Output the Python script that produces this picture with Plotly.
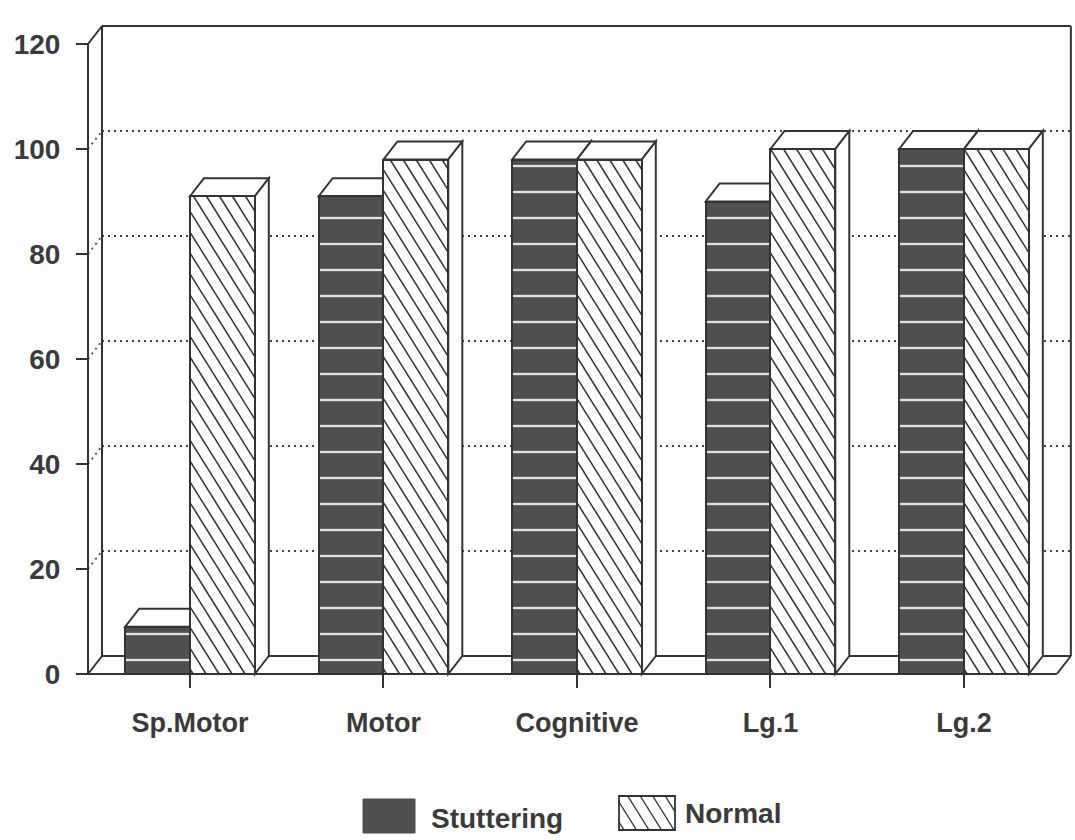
import plotly.graph_objects as go

# ---- data ---------------------------------------------------------------
categories = ["Sp.Motor", "Motor", "Cognitive", "Lg.1", "Lg.2"]
stuttering = [9, 91, 98, 90, 100]
normal = [91, 98, 98, 100, 100]
y_ticks = [0, 20, 40, 60, 80, 100, 120]
series_names = ["Stuttering", "Normal"]

# ---- geometry -----------------------------------------------------------
W, H = 1075, 840
M_L, M_R, M_T, M_B = 84, 2, 23, 163
PX_X = 193.5          # pixels per category step
PX_Y = 5.25           # pixels per score unit
X0 = -0.5477
X1 = X0 + (W - M_L - M_R) / PX_X
Y_TOP = 124.0
Y_BOT = Y_TOP - (H - M_T - M_B) / PX_Y

X_LEFT = X0 + 4 / PX_X       # front vertical axis
X_RIGHT = 4.48               # front right end of the floor
Y_MAX = 120
DX = 14 / PX_X               # depth offset of the 3-D boxes
DY = 18 / PX_Y
BAR_W = 0.335

INK = "#333333"
TEXT = "#3a3a3a"
DARK = "#4f4f4f"
FONT = "Liberation Sans"

pos = list(range(len(categories)))


def hatch(px0, px1, py0, py1, step=13.0, slope=1.6, phase=5.0):
    """Segments of lines falling to the right, clipped to a pixel rectangle
    (y measured upward)."""
    segs = []
    kmin = py0 + slope * px0
    kmax = py1 + slope * px1
    k = kmin + phase
    while k < kmax:
        lo = max(px0, (k - py1) / slope)
        hi = min(px1, (k - py0) / slope)
        if hi - lo > 0.5:
            segs.append(((lo, k - slope * lo), (hi, k - slope * hi)))
        k += slope * step
    return segs


fig = go.Figure()

fig.add_trace(go.Bar(
    x=pos, y=stuttering, width=BAR_W, offset=-BAR_W, name=series_names[0],
    marker=dict(color=DARK, line=dict(color=INK, width=2),
                pattern=dict(shape="-", fgcolor="#e0e0e0", bgcolor=DARK,
                             size=26, solidity=0.09, fillmode="replace")),
    showlegend=False, hoverinfo="skip",
))
fig.add_trace(go.Bar(
    x=pos, y=normal, width=BAR_W, offset=0, name=series_names[1],
    marker=dict(color="white", line=dict(color=INK, width=2)),
    showlegend=False, hoverinfo="skip",
))

# steep diagonal hatching on the front faces of the Normal bars
hx, hy = [], []
for p, v in zip(pos, normal):
    for (a, b) in hatch(p * PX_X, (p + BAR_W) * PX_X, 0, v * PX_Y):
        hx += [a[0] / PX_X, b[0] / PX_X, None]
        hy += [a[1] / PX_Y, b[1] / PX_Y, None]
fig.add_trace(go.Scatter(x=hx, y=hy, mode="lines",
                         line=dict(color=INK, width=1.5),
                         showlegend=False, hoverinfo="skip"))

shapes = []


def line(x0, y0, x1, y1, layer="below", dash=None, width=2, color=INK):
    d = dict(type="line", xref="x", yref="y", x0=x0, y0=y0, x1=x1, y1=y1,
             layer=layer, line=dict(color=color, width=width))
    if dash:
        d["line"]["dash"] = dash
    shapes.append(d)


def poly(pts, layer="between", fill="white"):
    path = "M " + " L ".join(f"{x:.5f},{y:.5f}" for x, y in pts) + " Z"
    shapes.append(dict(type="path", xref="x", yref="y", path=path,
                       fillcolor=fill, layer=layer,
                       line=dict(color=INK, width=2)))


# dotted grid on the back wall and the left side wall
for v in y_ticks[1:-1]:
    line(X_LEFT + DX, v + DY, X_RIGHT + DX, v + DY, dash="2px,4px", width=1.8,
         color="#444444")
    line(X_LEFT, v, X_LEFT + DX, v + DY, dash="2px,4px", width=1.8,
         color="#444444")

# box frame: side wall, back wall, floor
line(X_LEFT, 0, X_LEFT, Y_MAX)
line(X_LEFT + DX, DY, X_LEFT + DX, Y_MAX + DY)
line(X_LEFT, Y_MAX, X_LEFT + DX, Y_MAX + DY)
line(X_LEFT + DX, Y_MAX + DY, X_RIGHT + DX, Y_MAX + DY)
line(X_RIGHT + DX, DY, X_RIGHT + DX, Y_MAX + DY)
line(X_LEFT, 0, X_LEFT + DX, DY)
line(X_LEFT + DX, DY, X_RIGHT + DX, DY)
line(X_RIGHT, 0, X_RIGHT + DX, DY)

# top and side faces of every bar
for p, s, n in zip(pos, stuttering, normal):
    for x0, v in ((p - BAR_W, s), (p, n)):
        x1 = x0 + BAR_W
        poly([(x0, v), (x0 + DX, v + DY), (x1 + DX, v + DY), (x1, v)])
        poly([(x1, 0), (x1 + DX, DY), (x1 + DX, v + DY), (x1, v)])

# front baseline
line(X_LEFT, 0, X_RIGHT, 0, layer="above")

# ---- legend below the plot ------------------------------------------------
PW = W - M_L - M_R
PH = H - M_T - M_B


def px(xp):
    return (xp - M_L) / PW


def py(yp):
    return (H - M_B - yp) / PH


shapes.append(dict(type="rect", xref="paper", yref="paper",
                   x0=px(363), x1=px(415), y0=py(833), y1=py(799),
                   fillcolor=DARK, line=dict(color=DARK, width=1)))
shapes.append(dict(type="rect", xref="paper", yref="paper",
                   x0=px(619), x1=px(675), y0=py(830), y1=py(796),
                   fillcolor="white", line=dict(color=INK, width=1.8)))
for a, b in hatch(619, 675, H - 830, H - 796, step=12.5, phase=8):
    shapes.append(dict(type="line", xref="paper", yref="paper",
                       x0=px(a[0]), y0=py(H - a[1]),
                       x1=px(b[0]), y1=py(H - b[1]),
                       line=dict(color=INK, width=1.4)))

annotations = [
    dict(xref="paper", yref="paper", x=px(429), y=py(818), text=series_names[0],
         showarrow=False, xanchor="left", yanchor="middle",
         font=dict(family=FONT, size=28, color=TEXT, weight="bold")),
    dict(xref="paper", yref="paper", x=px(683), y=py(814), text=series_names[1],
         showarrow=False, xanchor="left", yanchor="middle",
         font=dict(family=FONT, size=28, color=TEXT, weight="bold")),
]

fig.update_layout(
    width=W, height=H,
    margin=dict(l=M_L, r=M_R, t=M_T, b=M_B, pad=0),
    plot_bgcolor="white", paper_bgcolor="white",
    barmode="overlay", bargap=0,
    showlegend=False,
    shapes=shapes, annotations=annotations,
    xaxis=dict(range=[X0, X1], tickmode="array", tickvals=pos,
               ticktext=categories, ticks="outside", ticklen=13, tickwidth=2,
               tickcolor=INK, showgrid=False, zeroline=False, showline=False,
               anchor="free", position=(0 - Y_BOT) / (Y_TOP - Y_BOT),
               ticklabelstandoff=12,
               tickfont=dict(family=FONT, size=27, color=TEXT, weight="bold"),
               fixedrange=True),
    yaxis=dict(range=[Y_BOT, Y_TOP], tickmode="array", tickvals=y_ticks,
               ticks="outside", ticklen=12, tickwidth=2, tickcolor=INK,
               showgrid=False, zeroline=False, showline=False,
               anchor="free", position=(X_LEFT - X0) / (X1 - X0),
               ticklabelstandoff=10,
               tickfont=dict(family=FONT, size=28, color=TEXT, weight="bold"),
               fixedrange=True),
)

fig.write_html("out.html")
